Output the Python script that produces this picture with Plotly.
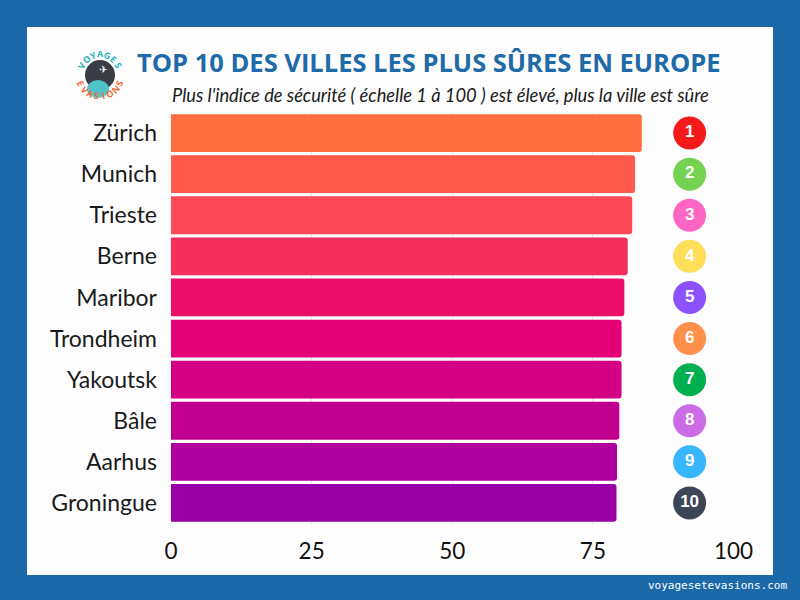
import math
import plotly.graph_objects as go

cities = ["Zürich", "Munich", "Trieste", "Berne", "Maribor", "Trondheim",
          "Yakoutsk", "Bâle", "Aarhus", "Groningue"]
scores = [83.7, 82.5, 82.0, 81.2, 80.6, 80.1, 80.1, 79.7, 79.3, 79.2]
bar_colors = ["#fe6d3e", "#ff5a4a", "#fe4757", "#f5305f", "#ec0f6a",
              "#e30079", "#d30083", "#c2008f", "#ae009c", "#9900a8"]
ranks = ["1", "2", "3", "4", "5", "6", "7", "8", "9", "10"]
rank_colors = ["#f51a1a", "#74d152", "#ff66c4", "#ffde59", "#8c52ff",
               "#ff914d", "#00b050", "#cb6ce6", "#38b6ff", "#3d4657"]
rank_x = [92.2] * 10
tick_vals = [0, 25, 50, 75, 100]

W, H = 800, 600

fig = go.Figure()
fig.add_trace(go.Bar(
    x=scores, y=cities, orientation="h",
    marker=dict(color=bar_colors, line=dict(width=0)),
    hoverinfo="x+y",
))
fig.add_trace(go.Scatter(
    x=rank_x, y=cities, mode="markers+text",
    marker=dict(size=33, color=rank_colors, line=dict(width=0)),
    text=["<b>%s</b>" % r for r in ranks], textposition="middle center",
    textfont=dict(family="Liberation Sans, Arial", size=17, color="white"),
    cliponaxis=False, hoverinfo="skip",
))

# logo lettering along arcs
LX, LY = 100, 75


def arc_letters(word, radius, span, top, color):
    out = []
    n = len(word)
    for i, ch in enumerate(word):
        th = -span + 2 * span * i / (n - 1)
        rad = math.radians(th)
        px = LX + radius * math.sin(rad)
        py = LY - radius * math.cos(rad) if top else LY + radius * math.cos(rad)
        out.append(dict(text="<b>%s</b>" % ch, x=px / W, y=1 - py / H,
                        xref="paper", yref="paper", showarrow=False,
                        xanchor="center", yanchor="middle",
                        textangle=th if top else -th,
                        font=dict(family="Open Sans", size=9, color=color)))
    return out


logo_ann = arc_letters("VOYAGES", 21, 62, True, "#2bb3c0") + \
    arc_letters("EVASIONS", 21, 66, False, "#f26b3a")

fig.update_layout(
    width=W, height=H,
    autosize=False,
    margin=dict(l=0, r=0, t=0, b=0, pad=0, autoexpand=False),
    paper_bgcolor="#1b69a8",
    plot_bgcolor="rgba(0,0,0,0)",
    showlegend=False,
    bargap=0.08,
    barcornerradius=3,
    xaxis=dict(
        domain=[171 / W, 733.5 / W],
        range=[0, 100], tickvals=tick_vals,
        showgrid=True, gridcolor="#e4e4e4", gridwidth=1,
        zeroline=False, showline=False, automargin=False,
        tickfont=dict(family="Lato", size=22.5, color="#111111"),
        ticks="", ticklen=0, ticklabelstandoff=12,
    ),
    yaxis=dict(
        domain=[(H - 523.5) / H, (H - 112.5) / H],
        range=[len(cities) - 0.5, -0.5], automargin=False,
        showgrid=False, zeroline=False, showline=False,
        tickfont=dict(family="Lato", size=23, color="#1a1a1a"),
        ticks="", ticklen=0, ticklabelstandoff=13,
    ),
    shapes=[
        dict(type="rect", xref="paper", yref="paper", layer="below",
             x0=27 / W, x1=773 / W, y0=1 - 575 / H, y1=1 - 27 / H,
             fillcolor="#fdfdfd", line=dict(width=0)),
        # logo
        dict(type="circle", xref="paper", yref="paper",
             x0=(LX - 15) / W, x1=(LX + 15) / W,
             y0=1 - (LY + 15) / H, y1=1 - (LY - 15) / H,
             fillcolor="#3a3d46", line=dict(width=0)),
        dict(type="circle", xref="paper", yref="paper",
             x0=(LX - 2 - 11) / W, x1=(LX - 2 + 11) / W,
             y0=1 - (LY + 14 + 9) / H, y1=1 - (LY + 14 - 9) / H,
             fillcolor="#4fc3c9", line=dict(width=0)),
    ],
    annotations=[
        dict(text="<b>TOP 10 DES VILLES LES PLUS SÛRES EN EUROPE</b>",
             x=429 / W, y=1 - 62 / H, xref="paper", yref="paper",
             xanchor="center", yanchor="middle", showarrow=False,
             font=dict(family="Open Sans", size=25.5, color="#1f6aa8")),
        dict(text="<i>Plus l'indice de sécurité ( échelle 1 à 100 ) est élevé, plus la ville est sûre</i>",
             x=440 / W, y=1 - 95 / H, xref="paper", yref="paper",
             xanchor="center", yanchor="middle", showarrow=False,
             font=dict(family="Lato", size=18.3, color="#1a1a1a")),
        dict(text="✈", x=(LX + 3) / W, y=1 - (LY - 6) / H,
             xref="paper", yref="paper", showarrow=False,
             xanchor="center", yanchor="middle",
             font=dict(family="DejaVu Sans", size=10, color="white")),
        dict(text="voyagesetevasions.com", x=789 / W, y=1 - 585 / H,
             xref="paper", yref="paper", showarrow=False,
             xanchor="right", yanchor="middle",
             font=dict(family="DejaVu Sans Mono", size=11, color="white")),
    ] + logo_ann,
)

fig.write_html(
    "out.html",
    config={"displayModeBar": False},
    post_script="document.body.style.margin='0';document.body.style.overflow='hidden';",
)
